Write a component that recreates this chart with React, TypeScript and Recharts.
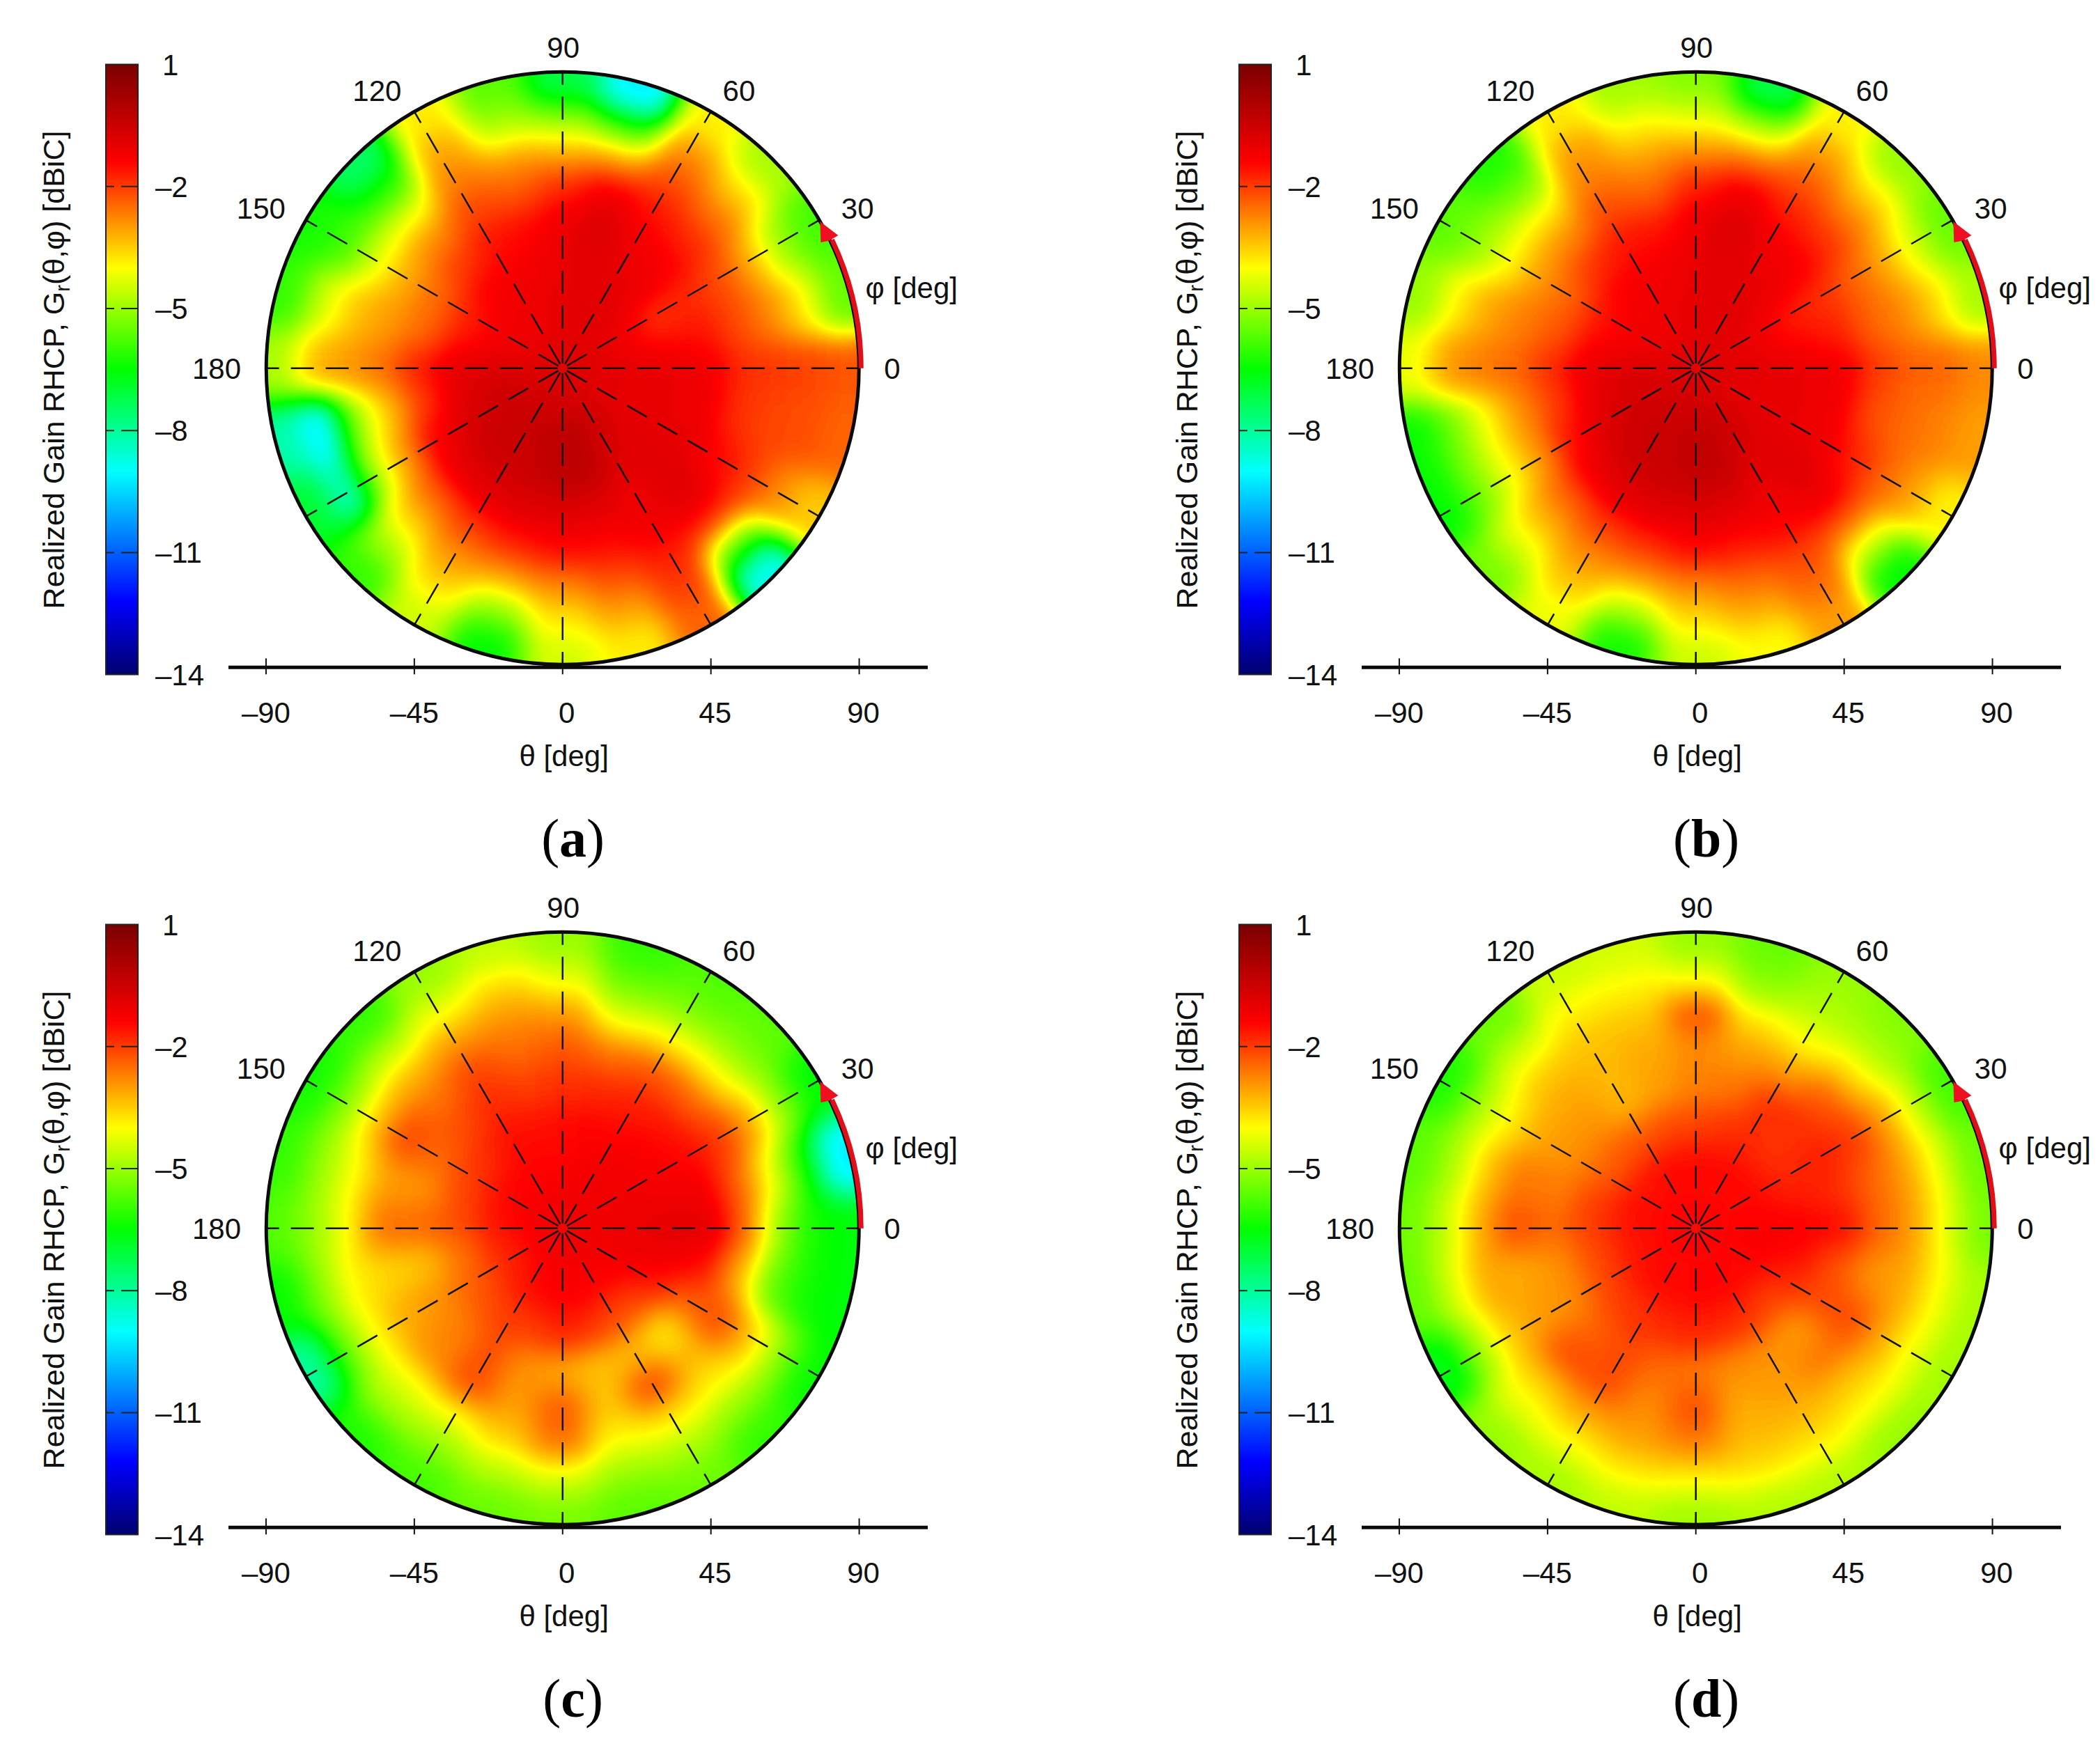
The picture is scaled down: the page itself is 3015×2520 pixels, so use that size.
import { ScatterChart, Scatter, XAxis, YAxis, ReferenceLine, ReferenceDot, ReferenceArea } from "recharts";

// phi angles (rows) and theta rings (columns) of the gain tables, in deg
const phiAngles = [0, 15, 30, 45, 60, 75, 90, 105, 120, 135, 150, 165, 180, 195, 210, 225, 240, 255, 270, 285, 300, 315, 330, 345];
const thetaRings = [8, 20, 32, 44, 56, 66, 76, 86];
const ringEdges = [0, 14, 26, 38, 50, 61, 71, 81, 130];

const gainA = [
  [-0.8, -0.9, -1, -1.2, -1.9, -2, -2.1, -2.3],
  [-0.9, -1.1, -1.5, -1.6, -2.2, -2.8, -3.8, -5.5],
  [-0.9, -1.2, -2, -1.8, -2.2, -3.2, -4.8, -5.8],
  [-0.8, -0.9, -1, -1.3, -1.8, -2.6, -3.6, -4.8],
  [-0.8, -0.9, -1, -1.2, -1.6, -2.2, -2.8, -3.9],
  [-0.8, -0.9, -0.9, -0.7, -1.2, -3, -5.8, -9.2],
  [-0.9, -1, -1, -1.1, -1.8, -3.2, -5, -7.2],
  [-1, -1, -1.2, -1.5, -2.3, -3, -4.7, -5.6],
  [-1, -1.1, -1.3, -1.6, -2.1, -2.7, -3.1, -3.8],
  [-1, -1.1, -1.3, -2, -2.8, -4.2, -6, -7.5],
  [-1, -1.2, -1.7, -2.5, -3.2, -4.3, -5.8, -6.3],
  [-1, -1.2, -1.6, -2.5, -3, -3.4, -4.4, -6],
  [-0.8, -0.7, -0.9, -1.7, -2.6, -3, -3.3, -4.8],
  [-0.7, -0.6, -0.9, -2, -3.5, -5.2, -9.4, -8.2],
  [-0.7, -0.5, -0.7, -1.3, -3, -4.8, -8.6, -7],
  [-0.7, -0.4, -0.5, -1, -2.5, -3.6, -4.8, -6],
  [-0.7, -0.4, -0.5, -0.9, -2, -2.9, -3.6, -4.5],
  [-0.7, -0.3, -0.4, -0.8, -1.7, -3, -4.9, -6.5],
  [-0.7, -0.2, -0.2, -0.8, -1.5, -2.7, -3.7, -4.4],
  [-0.7, -0.2, -0.2, -0.9, -1.5, -2.2, -3, -3.8],
  [-0.7, -0.5, -0.8, -1.1, -1.2, -1.7, -2, -2.4],
  [-0.8, -0.8, -0.9, -0.8, -0.9, -2, -5.5, -8.8],
  [-0.8, -1, -1, -1, -1.5, -2, -2.8, -3.5],
  [-0.8, -1, -1, -1.1, -1.9, -2.1, -2.2, -2.4],
];

const gainB = [
  [-0.8, -0.9, -1, -1.2, -2, -2.4, -2.5, -2.8],
  [-0.9, -1, -1.4, -1.7, -2.4, -2.8, -3.6, -4.8],
  [-0.9, -1.2, -1.7, -1.9, -2.4, -3.1, -4.3, -5.5],
  [-0.8, -0.9, -1, -1.3, -1.9, -2.7, -3.7, -5],
  [-0.8, -0.9, -1, -1.2, -1.7, -2.3, -3, -3.9],
  [-0.8, -0.9, -0.9, -0.7, -1.2, -2.6, -4.7, -7.2],
  [-0.9, -1, -1, -1.1, -1.7, -2.8, -4.2, -5.2],
  [-1, -1, -1.2, -1.6, -2.4, -3, -3.9, -4.9],
  [-1, -1.1, -1.3, -1.6, -2.2, -2.7, -3, -3.8],
  [-1, -1.1, -1.3, -1.9, -2.8, -3.9, -5.3, -6.2],
  [-1, -1.2, -1.6, -2.4, -3, -4, -5, -5.6],
  [-1, -1.2, -1.5, -2.3, -2.7, -3.1, -3.9, -5],
  [-0.8, -0.7, -1, -1.8, -2.5, -2.7, -3, -4.2],
  [-0.7, -0.7, -1, -2, -2.9, -4, -5.3, -6.4],
  [-0.7, -0.6, -0.8, -1.6, -3, -4.1, -5.3, -6.5],
  [-0.7, -0.5, -0.6, -1.1, -2.4, -3.3, -4.3, -5.3],
  [-0.7, -0.4, -0.5, -0.9, -2, -2.8, -3.4, -4.2],
  [-0.7, -0.4, -0.4, -0.8, -1.8, -2.9, -4.6, -6.3],
  [-0.7, -0.3, -0.3, -0.8, -1.5, -2.7, -3.6, -4.5],
  [-0.7, -0.3, -0.3, -0.9, -1.6, -2.4, -3.1, -4],
  [-0.7, -0.5, -0.8, -1.1, -1.4, -2.1, -2.5, -3],
  [-0.8, -0.8, -0.9, -0.8, -1.1, -2.4, -4.4, -6.5],
  [-0.8, -1, -1, -1.1, -1.7, -2.4, -3, -3.9],
  [-0.8, -1, -1, -1.2, -2.2, -2.5, -2.7, -3],
];

const gainC = [
  [-1.2, -1, -0.9, -0.9, -2.4, -5, -6.3, -6.6],
  [-1.2, -1.1, -1.1, -1.2, -2.4, -4.2, -6.2, -9.2],
  [-1.2, -1.2, -1.3, -1.5, -2, -3.2, -5, -6.5],
  [-1.2, -1.2, -1.3, -1.6, -2.4, -3.9, -5.1, -5.6],
  [-1.2, -1.2, -1.4, -1.7, -2.3, -3.9, -5.2, -5.7],
  [-1.2, -1.3, -1.4, -1.8, -2.6, -4.1, -5.3, -6],
  [-1.2, -1.4, -1.5, -1.9, -2.3, -3, -4.2, -5],
  [-1.2, -1.4, -1.6, -2, -2.5, -2.9, -3.6, -4.6],
  [-1.2, -1.4, -1.5, -1.8, -2.1, -3, -4.1, -5],
  [-1.2, -1.4, -1.8, -2.2, -2.6, -3.3, -4.7, -6],
  [-1.2, -1.5, -2, -2.5, -2.1, -3.5, -5.1, -6.3],
  [-1.2, -1.5, -2.1, -2.9, -3, -4, -5, -6],
  [-1.3, -1.6, -2.2, -2.5, -2.6, -4, -5, -5.7],
  [-1.3, -1.7, -2.6, -3.4, -3.6, -3.9, -5.1, -6.4],
  [-1.3, -1.8, -2.4, -2.9, -3.2, -4, -5.5, -8],
  [-1.3, -1.7, -2.2, -2.7, -2.8, -4.1, -4.9, -6.2],
  [-1.3, -1.5, -2, -2.2, -2.2, -4, -5, -5.8],
  [-1.2, -1.4, -2, -2.9, -3, -3.5, -4.6, -5.5],
  [-1.2, -1.3, -1.7, -3.1, -2.3, -2.6, -4.3, -5.3],
  [-1.2, -1.3, -1.9, -3.4, -3.4, -3.9, -4.9, -5.6],
  [-1.2, -1.4, -2.2, -3.3, -2.1, -3.7, -4.7, -5.4],
  [-1.2, -1.4, -2.1, -3.8, -3.3, -3.8, -5, -6],
  [-1.2, -1.2, -1.6, -2.4, -2.2, -3.4, -5, -6.4],
  [-1.2, -1.1, -1.1, -1.5, -3.1, -5.5, -6.3, -6.6],
];

const gainD = [
  [-1.4, -1.3, -1.3, -1.5, -2.4, -3, -4.1, -5.3],
  [-1.4, -1.4, -1.6, -1.8, -2.4, -3, -4.1, -5.4],
  [-1.4, -1.5, -1.8, -1.7, -2, -3, -4.4, -5.8],
  [-1.4, -1.5, -1.9, -1.9, -2.3, -3.6, -4.7, -5.2],
  [-1.4, -1.5, -1.8, -1.9, -3, -4, -4.7, -5],
  [-1.4, -1.5, -1.9, -2.6, -3, -3.7, -5, -5.5],
  [-1.4, -1.5, -2.1, -2.7, -2.8, -2.2, -4, -5],
  [-1.4, -1.5, -2.1, -3, -3.1, -3.4, -3.9, -4.4],
  [-1.4, -1.5, -2.3, -3.3, -3.3, -3.4, -3.9, -4.5],
  [-1.4, -1.6, -2.3, -2.9, -3.1, -3.5, -4.4, -5.4],
  [-1.4, -1.6, -2.4, -2.9, -3.1, -3.9, -4.8, -6.2],
  [-1.4, -1.5, -2, -2.7, -2.6, -3.4, -4.7, -5.6],
  [-1.4, -1.6, -2, -2.5, -2.2, -3.2, -4.5, -5.4],
  [-1.4, -1.6, -2.2, -2.9, -3.1, -3.1, -4.3, -5.5],
  [-1.4, -1.6, -2.1, -2.9, -3, -3.5, -4.9, -6.7],
  [-1.4, -1.5, -2, -2.4, -2.2, -3.5, -4.2, -5],
  [-1.4, -1.5, -1.9, -2.1, -2.2, -3.1, -4, -4.8],
  [-1.4, -1.5, -1.8, -2.5, -2.8, -3, -3.7, -4.6],
  [-1.4, -1.4, -1.7, -2.6, -2.2, -2.7, -3.8, -4.9],
  [-1.4, -1.4, -1.8, -2.8, -3.1, -3.3, -3.7, -4.7],
  [-1.4, -1.4, -1.9, -2.9, -3, -3.3, -3.8, -4.7],
  [-1.4, -1.5, -2.1, -3, -2.6, -3.4, -4, -5],
  [-1.4, -1.4, -1.8, -2.2, -2.2, -3.2, -4.1, -4.9],
  [-1.4, -1.3, -1.5, -2.2, -2.9, -3.1, -4, -4.8],
];

const thetaTicks = [-90, -45, 0, 45, 90];
const gainTicks = [1, -2, -5, -8, -11, -14];
const spokeAngles = [0, 30, 60, 90, 120, 150, 180, 210, 240, 270, 300, 330];
const phiLabels = [
  { text: "0", x: 100, y: 0 },
  { text: "30", x: 89.5, y: 48.5 },
  { text: "60", x: 53.5, y: 84.3 },
  { text: "90", x: 0.2, y: 97.5 },
  { text: "120", x: -56.3, y: 84.3 },
  { text: "150", x: -91.5, y: 48.5 },
  { text: "180", x: -105, y: 0 },
];

// colour map of the colour bar
const mapValues = [1, -1.4, -4, -6.5, -9, -12.2, -14];
const mapColors = [[122, 0, 0], [255, 0, 0], [255, 255, 0], [0, 255, 0], [0, 255, 255], [0, 0, 255], [0, 0, 110]];

const FONT = "'Liberation Sans', Arial, sans-serif";
const GAIN_MIN = -14;
const GAIN_MAX = 1;

// chart layout
const PANEL_W = 1130;
const PANEL_H = 1270;
const PANEL_LEFT = 250;
const PX_PER_DEG = 4.73;
const RADIUS = 425.5;
const CENTER_X = 78 + 101.4 * PX_PER_DEG;
const CENTER_Y = 74.7 + 96 * PX_PER_DEG;
const STEP_X = 1627.2;
const STEP_Y = 1235;

function mapColor(v: number) {
  for (let i = 0; i < mapValues.length - 1; i++) {
    if (v <= mapValues[i] && v >= mapValues[i + 1]) {
      const t = (mapValues[i] - v) / (mapValues[i] - mapValues[i + 1]);
      return mapColors[i].map((c, k) => c + (mapColors[i + 1][k] - c) * t);
    }
  }
  return mapColors[mapColors.length - 1];
}

// the blur works on the gain itself, the colour map is applied afterwards
const tableSteps = Array.from({ length: 151 }, (_, i) => GAIN_MIN + i * 0.1);
const channelTable = (ch: number) => tableSteps.map((v) => (mapColor(v)[ch] / 255).toFixed(3)).join(" ");

function buildCells(table: number[][]) {
  const cells: { x: number; y: number; theta: number; phi: number; ring: number; gain: number }[] = [];
  phiAngles.forEach((phi, i) => {
    thetaRings.forEach((theta, j) => {
      const a = (phi * Math.PI) / 180;
      cells.push({ x: theta * Math.cos(a), y: theta * Math.sin(a), theta, phi, ring: j, gain: table[i][j] });
    });
  });
  return cells;
}

const polar = (phi: number, theta: number) => ({
  x: theta * Math.cos((phi * Math.PI) / 180),
  y: theta * Math.sin((phi * Math.PI) / 180),
});

const HeatCell = (props: any) => {
  const { cx, cy, payload } = props;
  const { theta, phi, ring, gain } = payload;
  const a = (phi * Math.PI) / 180;
  const ox = cx - theta * PX_PER_DEG * Math.cos(a);
  const oy = cy + theta * PX_PER_DEG * Math.sin(a);
  const r0 = ringEdges[ring] * PX_PER_DEG;
  const r1 = ringEdges[ring + 1] * PX_PER_DEG;
  const pt = (r: number, b: number) => `${ox + r * Math.cos(b)},${oy - r * Math.sin(b)}`;
  const half = (8 * Math.PI) / 180;
  const level = Math.round(((gain - GAIN_MIN) / (GAIN_MAX - GAIN_MIN)) * 255);
  return (
    <polygon
      points={`${pt(r0, a - half)} ${pt(r1, a - half)} ${pt(r1, a)} ${pt(r1, a + half)} ${pt(r0, a + half)}`}
      fill={`rgb(${level},${level},${level})`}
    />
  );
};

const NoMark = () => <g />;

const ThetaTick = (props: any) => {
  const { x, y, payload } = props;
  const v = payload.value;
  return (
    <g>
      <line x1={x} x2={x} y1={y - 13} y2={y + 10} stroke="#111" strokeWidth={2} />
      <text x={x + (v >= 0 ? 6 : 0)} y={y + 80} textAnchor="middle" fontFamily={FONT} fontSize={42} fill="#111">
        {v < 0 ? `\u2013${-v}` : v}
      </text>
    </g>
  );
};

const GainTick = (props: any) => {
  const { x, y, payload } = props;
  const v = payload.value;
  return (
    <text x={x + (v < 0 ? 25 : 35)} y={y + 15} fontFamily={FONT} fontSize={42} fill="#111">
      {v < 0 ? `\u2013${-v}` : v}
    </text>
  );
};

// border circle and the red phi arrow
const RimShape = (props: any) => {
  const { cx, cy } = props;
  const arcR = RADIUS + 3;
  const endX = cx + arcR * Math.cos((25.5 * Math.PI) / 180);
  const endY = cy - arcR * Math.sin((25.5 * Math.PI) / 180);
  return (
    <g>
      <circle cx={cx} cy={cy} r={RADIUS} fill="none" stroke="#0a0a0a" strokeWidth={5} />
      <path d={`M${cx + arcR},${cy} A${arcR},${arcR} 0 0 0 ${endX},${endY}`} fill="none" stroke="#e0101a" strokeWidth={7} />
      <polygon
        points={`${cx + 369.6},${cy - 210.8} ${cx + 395.6},${cy - 190.8} ${cx + 382.5},${cy - 183} ${cx + 370.6},${cy - 180.8}`}
        fill="#ee1020"
      />
    </g>
  );
};

function PolarPanel({ table, letter, col, row }: { table: number[][]; letter: string; col: number; row: number }) {
  const cells = buildCells(table);
  return (
    <div style={{ position: "absolute", left: PANEL_LEFT + col * STEP_X, top: row * STEP_Y }}>
      <ScatterChart width={PANEL_W} height={PANEL_H} margin={{ top: 74.7, right: 48, bottom: 211.7, left: 78 }}>
        <XAxis
          type="number"
          dataKey="x"
          domain={[-101.4, 110.8]}
          ticks={thetaTicks}
          interval={0}
          height={100}
          tickSize={0}
          tickMargin={0}
          tickLine={false}
          axisLine={{ stroke: "#0a0a0a", strokeWidth: 5 }}
          tick={ThetaTick}
        />
        <YAxis type="number" dataKey="y" domain={[-90.8, 96]} hide width={0} />
        <Scatter className="heat-cells" data={cells} shape={HeatCell} isAnimationActive={false} />
        {spokeAngles.map((phi) => (
          <Scatter
            key={phi}
            data={[polar(phi, 1.5), polar(phi, 89.6)]}
            shape={NoMark}
            line={{ stroke: "#111", strokeWidth: 2.5, strokeDasharray: "33 17" }}
            lineType="joint"
            isAnimationActive={false}
          />
        ))}
        <ReferenceDot x={0} y={0} r={RADIUS} ifOverflow="visible" shape={RimShape} />
        {phiLabels.map((l) => (
          <ReferenceDot
            key={l.text}
            x={l.x}
            y={l.y}
            r={0}
            ifOverflow="visible"
            stroke="none"
            fill="none"
            label={{ value: l.text, position: "center", fontFamily: FONT, fontSize: 42, fill: "#111" }}
          />
        ))}
        <text x={CENTER_X + 435} y={428} fontFamily={FONT} fontSize={42} fill="#111">
          {"\u03c6 [deg]"}
        </text>
        <text x={CENTER_X + 2} y={1100} textAnchor="middle" fontFamily={FONT} fontSize={42} fill="#111">
          {"\u03b8 [deg]"}
        </text>
        <text x={CENTER_X + 15} y={1230} textAnchor="middle" fontFamily="'Liberation Serif', serif" fontSize={78} fill="#000">
          (<tspan fontWeight="bold">{letter}</tspan>)
        </text>
      </ScatterChart>
    </div>
  );
}

function ColorBar({ col, row }: { col: number; row: number }) {
  return (
    <div style={{ position: "absolute", left: col * STEP_X, top: row * STEP_Y }}>
      <ScatterChart width={340} height={1040} margin={{ top: 92.6, right: 42, bottom: 71.4, left: 152 }}>
        <XAxis type="number" dataKey="x" domain={[0, 1]} hide height={0} />
        <YAxis
          type="number"
          dataKey="y"
          orientation="right"
          domain={[GAIN_MIN, GAIN_MAX]}
          ticks={gainTicks}
          interval={0}
          width={100}
          tickSize={0}
          tickMargin={0}
          tickLine={false}
          axisLine={false}
          tick={GainTick}
        />
        <Scatter data={gainTicks.map((v) => ({ x: 0.5, y: v }))} shape={NoMark} isAnimationActive={false} />
        <ReferenceArea x1={0} x2={1} y1={GAIN_MIN} y2={GAIN_MAX} fill="url(#gain-gradient)" fillOpacity={1} stroke="#222" strokeWidth={2} ifOverflow="visible" />
        {gainTicks.slice(1, 5).map((v) => (
          <ReferenceLine key={v} y={v} stroke="#222" strokeWidth={2} strokeDasharray="24 10" />
        ))}
        <text transform="translate(92 531) rotate(-90)" textAnchor="middle" fontFamily={FONT} fontSize={43} fill="#111">
          Realized Gain RHCP, G<tspan fontSize={29} dy={8}>r</tspan><tspan dy={-8}>{"(\u03b8,\u03c6) [dBiC]"}</tspan>
        </text>
      </ScatterChart>
    </div>
  );
}

const heatCss = `.heat-cells { filter: url(#gain-map); clip-path: url(#disc-clip); }`;

export default function App() {
  const tableR = channelTable(0);
  const tableG = channelTable(1);
  const tableB = channelTable(2);
  return (
    <div style={{ position: "absolute", left: 0, top: 0, width: 3015, height: 2520, background: "#fff", overflow: "hidden" }}>
      <style>{heatCss}</style>
      <svg width={0} height={0} style={{ position: "absolute" }}>
        <defs>
          <filter id="gain-map" filterUnits="userSpaceOnUse" x={0} y={0} width={PANEL_W} height={PANEL_H} colorInterpolationFilters="sRGB">
            <feGaussianBlur stdDeviation={20} />
            <feComponentTransfer>
              <feFuncR type="table" tableValues={tableR} />
              <feFuncG type="table" tableValues={tableG} />
              <feFuncB type="table" tableValues={tableB} />
            </feComponentTransfer>
          </filter>
          <clipPath id="disc-clip">
            <circle cx={CENTER_X} cy={CENTER_Y} r={RADIUS} />
          </clipPath>
          <linearGradient id="gain-gradient" x1={0} y1={0} x2={0} y2={1}>
            {mapValues.map((v, i) => (
              <stop
                key={v}
                offset={(GAIN_MAX - v) / (GAIN_MAX - GAIN_MIN)}
                stopColor={`rgb(${mapColors[i].join(",")})`}
              />
            ))}
          </linearGradient>
        </defs>
      </svg>
      <ColorBar col={0} row={0} />
      <ColorBar col={1} row={0} />
      <ColorBar col={0} row={1} />
      <ColorBar col={1} row={1} />
      <PolarPanel table={gainA} letter="a" col={0} row={0} />
      <PolarPanel table={gainB} letter="b" col={1} row={0} />
      <PolarPanel table={gainC} letter="c" col={0} row={1} />
      <PolarPanel table={gainD} letter="d" col={1} row={1} />
    </div>
  );
}
